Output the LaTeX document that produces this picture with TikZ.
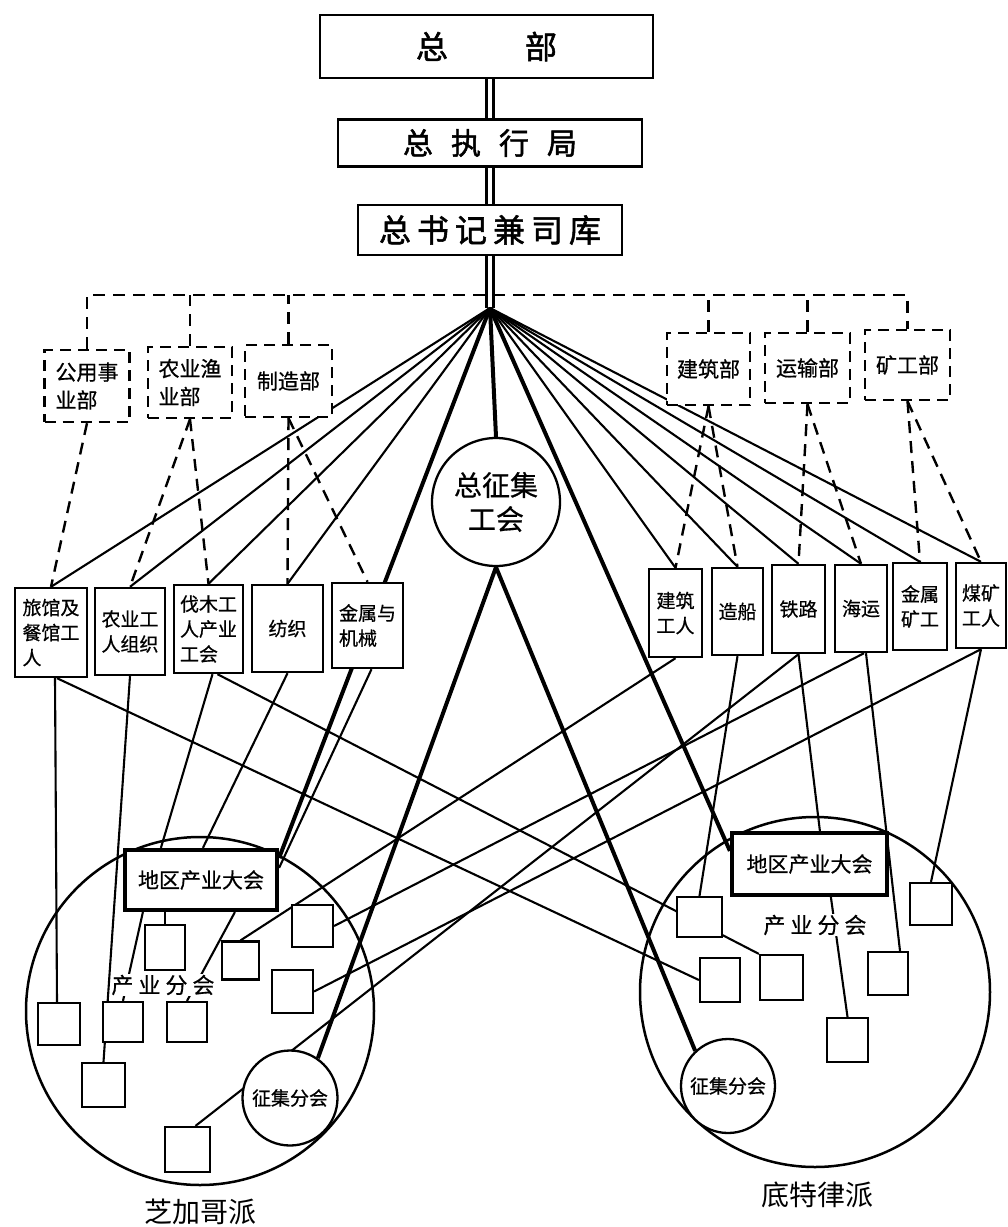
\documentclass[tikz,border=0pt]{standalone}
\usepackage{fontspec}
\setmainfont{Noto Sans CJK SC}
\newfontfamily\heavy[FakeBold=1.6]{Noto Sans CJK SC}
\newfontfamily\semi[FakeBold=0.6]{Noto Sans CJK SC}
\usetikzlibrary{calc}
\pgfdeclarelayer{bg}
\pgfsetlayers{bg,main}
\tikzset{
  topbox/.style={draw, line width=2.8pt, fill=white, inner sep=0pt, font=\heavy\fontsize{32pt}{36pt}\selectfont},
  deptbox/.style={draw, line width=2.4pt, dash pattern=on 11pt off 7pt, fill=white, inner sep=0pt, align=left, font=\semi\fontsize{21pt}{28pt}\selectfont},
  unionbox/.style={draw, line width=2.4pt, fill=white, inner sep=0pt, align=left, font=\semi\fontsize{19pt}{25pt}\selectfont},
  sbox/.style={draw, line width=2.2pt, fill=white, inner sep=0pt},
  regbox/.style={draw, line width=4.2pt, fill=white, inner sep=0pt, font=\semi\fontsize{21pt}{25pt}\selectfont},
  subcirc/.style={circle, draw, line width=2.3pt, fill=white, inner sep=0pt, font=\semi\fontsize{19pt}{23pt}\selectfont},
  maincirc/.style={circle, draw, line width=2.3pt, fill=white, inner sep=0pt, align=center, font=\semi\fontsize{28pt}{34pt}\selectfont},
  bigcirc/.style={circle, draw, line width=2.5pt, inner sep=0pt},
  grp/.style={fill=white, inner sep=1pt, font=\semi\fontsize{22pt}{26pt}\selectfont},
  caption/.style={inner sep=0pt, font=\fontsize{28pt}{32pt}\selectfont},
  link/.style={line width=2.1pt},
  heavylink/.style={line width=4pt},
  dashlink/.style={line width=2.4pt, dash pattern=on 12pt off 8pt},
  dbl/.style={double, double distance=4pt, line width=2.6pt}
}
\begin{document}
\begin{tikzpicture}[x=1pt,y=-1pt]
\useasboundingbox (0,0) rectangle (1008,1227);
\coordinate (hub) at (490,308);
\coordinate (bus) at (490,295);
% big circles
\node[bigcirc, minimum size=348pt] (bigL) at (200,1011) {};
\node[bigcirc, minimum size=350pt] (bigR) at (815,992) {};
% top
\node[topbox, minimum width=333pt, minimum height=63pt] (zongbu) at (486.5,46.5) {总\hspace{77pt}部};
\node[topbox, minimum width=304pt, minimum height=47pt, font=\heavy\fontsize{30pt}{34pt}\selectfont] (zhixing) at (490,143) {总\hspace{18pt}执\hspace{18pt}行\hspace{18pt}局};
\node[topbox, minimum width=264pt, minimum height=50pt] (shuji) at (490,230) {总\hspace{6pt}书\hspace{6pt}记\hspace{6pt}兼\hspace{6pt}司\hspace{6pt}库};
% departments
\node[deptbox, minimum width=85pt, minimum height=72pt] (gongyong) at (87,386) {公用事\\业部};
\node[deptbox, minimum width=84pt, minimum height=71pt] (nongye) at (190,382.5) {农业渔\\业部};
\node[deptbox, minimum width=87pt, minimum height=72pt] (zhizao) at (288.5,381) {制造部};
\node[deptbox, minimum width=83pt, minimum height=72pt] (jianzhu) at (708.5,369) {建筑部};
\node[deptbox, minimum width=85pt, minimum height=70pt] (yunshu) at (807.5,368) {运输部};
\node[deptbox, minimum width=85pt, minimum height=70pt] (kuanggong) at (907.5,365) {矿工部};
% unions left
\node[unionbox, minimum width=72pt, minimum height=89pt] (lvguan) at (51,632.5) {旅馆及\\餐馆工\\人};
\node[unionbox, minimum width=70pt, minimum height=87pt] (nongren) at (130,631.5) {农业工\\人组织};
\node[unionbox, minimum width=69pt, minimum height=88pt] (famu) at (208.5,629) {伐木工\\人产业\\工会};
\node[unionbox, minimum width=71pt, minimum height=87pt] (fangzhi) at (287.5,628.5) {纺织};
\node[unionbox, minimum width=71pt, minimum height=85pt] (jinshu) at (367.5,625.5) {金属与\\机械};
% unions right
\node[unionbox, minimum width=53pt, minimum height=88pt] (jianzhugr) at (675.5,613) {建筑\\工人};
\node[unionbox, minimum width=51pt, minimum height=87pt] (zaochuan) at (737.5,611.5) {造船};
\node[unionbox, minimum width=53pt, minimum height=88pt] (tielu) at (798.5,609) {铁路};
\node[unionbox, minimum width=52pt, minimum height=87pt] (haiyun) at (861,608.5) {海运};
\node[unionbox, minimum width=54pt, minimum height=87pt] (jinshukg) at (920,606.5) {金属\\矿工};
\node[unionbox, minimum width=50pt, minimum height=85pt] (meikuang) at (981,605.5) {煤矿\\工人};
% central circle
\node[maincirc, minimum size=128pt] (zhengji) at (496,502) {总征集\\工会};
% left district
\node[regbox, minimum width=152pt, minimum height=60pt] (diquL) at (201,880) {地区产业大会};
\node[grp] (cyL) at (163,985) {产\hspace{5pt}业\hspace{5pt}分\hspace{5pt}会};
\node[sbox, minimum width=40pt, minimum height=45pt] (LBa) at (165,947.5) {};
\node[sbox, minimum width=37pt, minimum height=38pt] (LBb) at (240.5,960.5) {};
\node[sbox, minimum width=41pt, minimum height=42pt] (LBc) at (312.5,926) {};
\node[sbox, minimum width=41pt, minimum height=43pt] (LBd) at (292.5,991.5) {};
\node[sbox, minimum width=42pt, minimum height=42pt] (LB1) at (59,1024) {};
\node[sbox, minimum width=40pt, minimum height=40pt] (LB2) at (123,1022) {};
\node[sbox, minimum width=40pt, minimum height=40pt] (LB3) at (187,1022) {};
\node[sbox, minimum width=43pt, minimum height=44pt] (LB4) at (103.5,1085) {};
\node[sbox, minimum width=45pt, minimum height=45pt] (LB5) at (187.5,1149.5) {};
\node[subcirc, minimum size=95pt] (zjL) at (290,1098) {征集分会};
% right district
\node[regbox, minimum width=155pt, minimum height=62pt] (diquR) at (809.5,864) {地区产业大会};
\node[grp] (cyR) at (815,925) {产\hspace{5pt}业\hspace{5pt}分\hspace{5pt}会};
\node[sbox, minimum width=45pt, minimum height=40pt] (RB1) at (699.5,917) {};
\node[sbox, minimum width=40pt, minimum height=44pt] (RB2) at (720,980) {};
\node[sbox, minimum width=43pt, minimum height=45pt] (RB3) at (781.5,977.5) {};
\node[sbox, minimum width=40pt, minimum height=43pt] (RB4) at (888,973.5) {};
\node[sbox, minimum width=41pt, minimum height=44pt] (RB5) at (847.5,1040) {};
\node[sbox, minimum width=42pt, minimum height=42pt] (RB6) at (931,904) {};
\node[subcirc, minimum size=94pt] (zjR) at (728,1086) {征集分会};
% captions
\node[caption] (chicago) at (200,1212) {芝加哥派};
\node[caption] (detroit) at (817,1195) {底特律派};

\begin{pgfonlayer}{bg}
\fill[white] (0,0) rectangle (1008,1227);
% dashed bus
\draw[dashlink] (gongyong.north) |- (bus) -| (kuanggong.north);
\draw[dashlink] (nongye.north) -- (nongye.north |- bus);
\draw[dashlink] (zhizao.north) -- (zhizao.north |- bus);
\draw[dashlink] (jianzhu.north) -- (jianzhu.north |- bus);
\draw[dashlink] (yunshu.north) -- (yunshu.north |- bus);
% dashed department links
\draw[dashlink] (gongyong.south) -- (lvguan.north);
\draw[dashlink] (nongye.south) -- (nongren.north);
\draw[dashlink] (nongye.south) -- (famu.north);
\draw[dashlink] (zhizao.south) -- (fangzhi.north);
\draw[dashlink] (zhizao.south) -- (jinshu.north);
\draw[dashlink] (jianzhu.south) -- (jianzhugr.north);
\draw[dashlink] (jianzhu.south) -- (zaochuan.north);
\draw[dashlink] (yunshu.south) -- (tielu.north);
\draw[dashlink] (yunshu.south) -- (haiyun.north);
\draw[dashlink] (kuanggong.south) -- (jinshukg.north);
\draw[dashlink] (kuanggong.south) -- (meikuang.north);
% double trunk
\draw[dbl] (zongbu.south -| hub) -- (zhixing.north -| hub);
\draw[dbl] (zhixing.south -| hub) -- (shuji.north -| hub);
\draw[dbl] (shuji.south -| hub) -- (hub);
% fan from hub
\foreach \t in {lvguan,nongren,famu,fangzhi,jianzhugr,zaochuan,tielu,haiyun,jinshukg,meikuang}
  \draw[link] (hub) -- (\t.north);
\draw[heavylink] (hub) -- ($(diquL.north east)+(0,10)$);
\draw[heavylink] (hub) -- ($(diquR.north west)+(0,20)$);
\draw[heavylink] (hub) -- (zhengji.north);
\draw[heavylink] (zhengji.south) -- (zjL.55);
\draw[heavylink] (zhengji.south) -- (zjR.133);
% left unions downward
\draw[link] ($(lvguan.south)+(4,0)$) -- ($(LB1.north)+(-2,0)$);
\draw[link] ($(lvguan.south)+(6,0)$) -- (RB2.west);
\draw[link] (nongren.south) -- (LB4.north);
\draw[link] ($(famu.south)+(4,0)$) -- ($(diquL.north west)+(38,0)$);
\draw[link] ($(famu.south)+(9,0)$) -- (RB3.north west);
\draw[link] (fangzhi.south) -- ($(diquL.north west)+(80,0)$);
\draw[link] ($(jinshu.south)+(4,0)$) -- ($(diquL.north east)+(0,20)$);
% right unions downward
\draw[link] (jianzhugr.south) -- (LBb.north);
\draw[link] (zaochuan.south) -- (RB1.north);
\draw[link] (tielu.south) -- ($(diquR.north west)+(90,0)$);
\draw[link] (tielu.south) -- ($(LB5.north)+(8,0)$);
\draw[link] ($(haiyun.south)+(3,0)$) -- (LBc.east);
\draw[link] ($(haiyun.south)+(5,0)$) -- ($(RB4.north)+(12,0)$);
\draw[link] (meikuang.south) -- (LBd.east);
\draw[link] (meikuang.south) -- (RB6.north);
% inside districts
\draw[link] (LBa.north |- diquL.south) -- (LBa.north);
\draw[link] ($(diquL.south west)+(20,0)$) -- (LB2.north);
\draw[link] ($(diquL.south west)+(112,0)$) -- (LB3.north);
\draw[link] ($(diquR.south west)+(101,0)$) -- (RB5.north);
\end{pgfonlayer}
\end{tikzpicture}
\end{document}
